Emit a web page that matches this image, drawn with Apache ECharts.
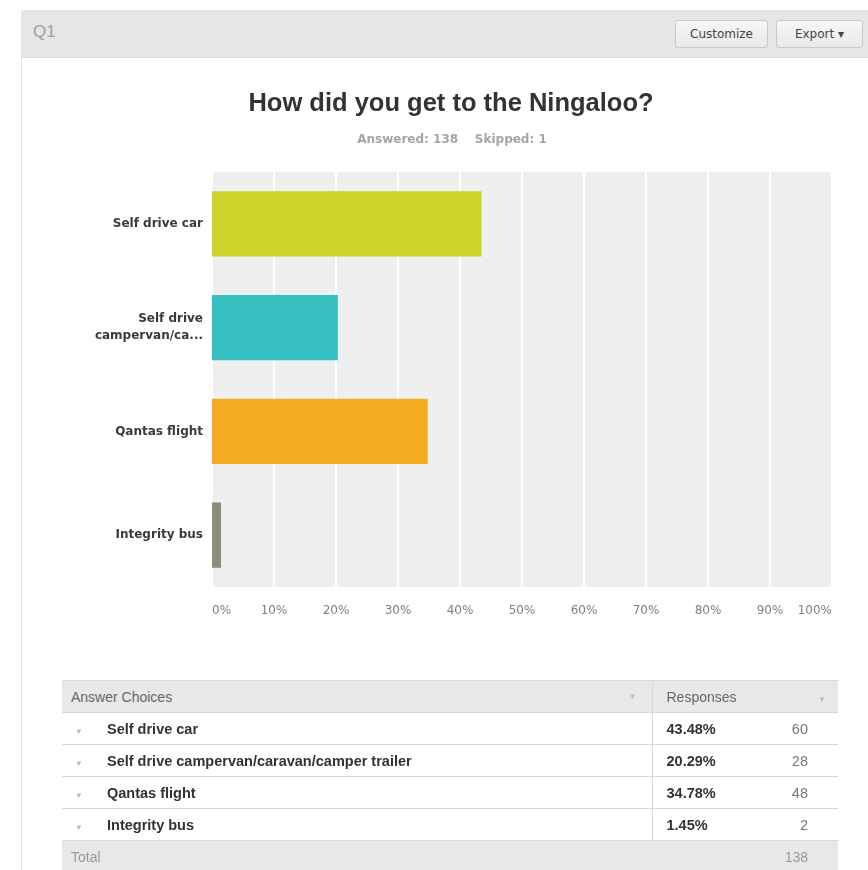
<!DOCTYPE html>
<html>
<head>
<meta charset="utf-8">
<script src="https://cdn.jsdelivr.net/npm/echarts@6/dist/echarts.min.js"></script>
<style>
  html, body { margin: 0; padding: 0; background: #fff; }
  #page { position: relative; width: 868px; height: 870px; overflow: hidden; font-family: "Liberation Sans", Arial, sans-serif; }
  #chart { position: absolute; left: 0; top: 0; width: 868px; height: 870px; }
  #panel { position: absolute; left: 21px; top: 10px; width: 847px; height: 860px; border-left: 1px solid #e2e2e2; pointer-events: none; }
  #hdr { position: absolute; left: 21px; top: 10px; width: 847px; height: 47px; background: #e6e6e6; border-bottom: 1px solid #dcdcdc; }
  #q1 { position: absolute; left: 12px; top: 12px; font-size: 17px; color: #a0a0a0; }
  .btn { position: absolute; top: 10px; height: 28px; line-height: 27px; font-family: "DejaVu Sans", sans-serif; font-size: 12px; color: #444; text-align: center;
         background: linear-gradient(#f7f7f7, #e9e9e9); border: 1px solid #c8c8c8; border-radius: 3px; box-sizing: border-box; }
  #tbl { position: absolute; left: 62px; top: 680px; width: 776px; border-collapse: collapse; font-size: 14.5px; table-layout: fixed; }
  #tbl td { height: 31px; padding: 0; border-bottom: 1px solid #d8d8d8; vertical-align: middle; }
  #tbl tr.head td { background: #e8e8e8; color: #666; border-top: 1px solid #d8d8d8; font-size: 14px; }
  #tbl tr.tot td { background: #e8e8e8; color: #999; font-size: 14px; }
  .caret { color: #bbb; font-size: 8px; }
</style>
</head>
<body>
<div id="page">
  <div id="chart"></div>
  <div id="panel"></div>
  <div id="hdr">
    <div id="q1">Q1</div>
    <div class="btn" style="left:654px;width:93px;">Customize</div>
    <div class="btn" style="left:755px;width:87px;">Export ▾</div>
  </div>
  <table id="tbl"></table>
</div>
<script>
const categories = ['Self drive car', 'Self drive campervan/caravan/camper trailer', 'Qantas flight', 'Integrity bus'];
const axisLabels = ['Self drive car', 'Self drive\ncampervan/ca...', 'Qantas flight', 'Integrity bus'];
const percents = [43.48, 20.29, 34.78, 1.45];
const counts = [60, 28, 48, 2];
const total = 138;
const skipped = 1;
const tickLabels = ['0%', '10%', '20%', '30%', '40%', '50%', '60%', '70%', '80%', '90%', '100%'];
const barColors = ['#ccd32a', '#35bfbf', '#f5ab1f', '#8b8d7d'];

const chart = echarts.init(document.getElementById('chart'), null, { renderer: 'canvas' });
chart.setOption({
  animation: false,
  backgroundColor: 'transparent',
  title: [
    { text: 'How did you get to the Ningaloo?', left: 446, top: 86, textAlign: 'center',
      textStyle: { fontFamily: 'Liberation Sans', fontSize: 25.5, fontWeight: 'bold', color: '#333' } },
    { text: 'Answered: ' + total + '    Skipped: ' + skipped, left: 447, top: 129, textAlign: 'center',
      textStyle: { fontFamily: 'DejaVu Sans', fontSize: 12, fontWeight: 'bold', color: '#a5a5a5' } }
  ],
  grid: { left: 212, right: 36, top: 172, bottom: 283, show: true, backgroundColor: '#efefef', borderWidth: 0 },
  xAxis: {
    type: 'value', min: 0, max: 100, interval: 10,
    axisLine: { show: false }, axisTick: { show: false },
    splitLine: { show: true, lineStyle: { color: '#ffffff', width: 2 } },
    axisLabel: {
      margin: 18, fontFamily: 'DejaVu Sans', fontSize: 12, color: '#808080',
      alignMinLabel: 'left', alignMaxLabel: 'right',
      formatter: function (v) { return tickLabels[Math.round(v / 10)]; }
    }
  },
  yAxis: {
    type: 'category', inverse: true, data: axisLabels,
    axisLine: { show: false }, axisTick: { show: false }, splitLine: { show: false },
    axisLabel: { margin: 9, fontFamily: 'DejaVu Sans', fontSize: 12, fontWeight: 'bold', color: '#3a3a3a', lineHeight: 17 }
  },
  series: [{
    type: 'bar', barWidth: '63%',
    data: percents.map(function (v, i) { return { value: v, itemStyle: { color: barColors[i] } }; })
  }]
});

// Table built from the data arrays
const tbl = document.getElementById('tbl');
let html = '<colgroup><col style="width:590px"><col style="width:110px"><col style="width:76px"></colgroup>';
html += '<tr class="head"><td style="padding-left:9px;border-right:1px solid #d8d8d8;position:relative;">Answer Choices<span class="caret" style="position:absolute;right:15px;top:11px;">▼</span></td>' +
        '<td style="padding-left:14px;">Responses</td><td style="text-align:right;padding-right:12px;"><span class="caret">▼</span></td></tr>';
for (let i = 0; i < categories.length; i++) {
  html += '<tr><td style="border-right:1px solid #d8d8d8;color:#333;font-weight:bold;"><span class="caret" style="display:inline-block;width:45px;padding-left:13px;box-sizing:border-box;">▼</span>' + categories[i] + '</td>' +
          '<td style="padding-left:14px;font-weight:bold;color:#333;">' + percents[i].toFixed(2) + '%</td>' +
          '<td style="text-align:right;padding-right:30px;color:#777;">' + counts[i] + '</td></tr>';
}
html += '<tr class="tot"><td style="padding-left:9px;">Total</td><td></td><td style="text-align:right;padding-right:30px;">' + total + '</td></tr>';
tbl.innerHTML = html;
</script>
</body>
</html>
